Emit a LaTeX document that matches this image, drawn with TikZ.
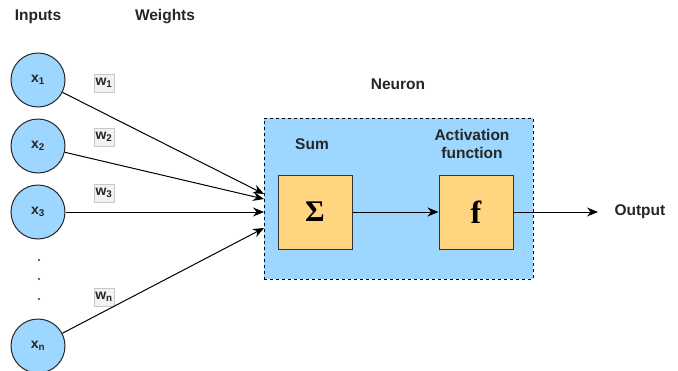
\documentclass[tikz,border=0pt]{standalone}
\usepackage{fontspec}
\setmainfont{Liberation Sans}
\newfontfamily\serifbold{Liberation Serif}
\usetikzlibrary{arrows.meta}
\definecolor{neuronblue}{HTML}{9DD6FF}
\definecolor{boxorange}{HTML}{FFD580}
\definecolor{wfill}{HTML}{F2F2F2}
\definecolor{wline}{HTML}{C8C8C8}
\tikzset{
  inputnode/.style={circle, draw=black!85, fill=neuronblue, line width=1pt,
    minimum size=54pt, inner sep=0pt, font=\bfseries\fontsize{14}{16}\selectfont, text=black!85},
  weightlabel/.style={draw=wline, fill=wfill, line width=0.6pt, inner sep=1.5pt,
    minimum width=20pt, minimum height=18pt, font=\bfseries\fontsize{14}{16}\selectfont, text=black!85},
  opbox/.style={draw=black!80, fill=boxorange, line width=1pt,
    minimum size=74pt, inner sep=0pt},
  caption/.style={font=\bfseries\fontsize{15.5}{18}\selectfont, text=black!85, align=center},
  conn/.style={line width=1pt, -{Stealth[length=11pt,width=9pt]}},
}
\begin{document}
\begin{tikzpicture}[x=1pt,y=-1pt]
  \useasboundingbox (0,0) rectangle (678,370);

  % column headers
  \node[caption] (hin) at (38,17) {Inputs};
  \node[caption] (hw) at (165,17) {Weights};

  % neuron container
  \node[caption] (hneuron) at (398,84) {Neuron};
  \node[draw=black, fill=neuronblue, dashed, line width=0.9pt,
        minimum width=269pt, minimum height=161pt, inner sep=0pt] (neuron) at (398.5,198.5) {};
  \node[caption] (hsum) at (312,144) {Sum};
  \node[caption] (hact) at (472,144) {Activation\\function};

  % inputs
  \node[inputnode] (x1) at (38,80) {x\textsubscript{1}};
  \node[inputnode] (x2) at (38,146) {x\textsubscript{2}};
  \node[inputnode] (x3) at (38,212) {x\textsubscript{3}};
  \node[inputnode] (xn) at (38,346) {x\textsubscript{n}};

  % vertical ellipsis
  \fill[black!80] (39,260) circle (1.1pt) (39,279) circle (1.1pt) (39,299) circle (1.1pt);

  % weights
  \node[weightlabel] (w1) at (104,83) {w\textsubscript{1}};
  \node[weightlabel] (w2) at (104,137) {w\textsubscript{2}};
  \node[weightlabel] (w3) at (104,193) {w\textsubscript{3}};
  \node[weightlabel] (wn) at (104,297) {w\textsubscript{n}};

  % sum and activation
  \node[opbox] (sum) at (315,212) {\serifbold\bfseries\fontsize{30}{30}\selectfont Σ};
  \node[opbox] (act) at (476,212) {\serifbold\bfseries\fontsize{32}{32}\selectfont f};

  % entry points on the neuron border
  \coordinate (in1) at (264,194);
  \coordinate (in2) at (264,199);
  \coordinate (in3) at (264,212);
  \coordinate (inn) at (264,228);
  \coordinate (outend) at (598,212);
  \node[caption, anchor=west] (out) at (611,212) {Output};

  \draw[conn] (x1) -- (in1);
  \draw[conn] (x2) -- (in2);
  \draw[conn] (x3) -- (in3);
  \draw[conn] (xn) -- (inn);
  \draw[conn] (sum) -- (act);
  \draw[conn] (act) -- (outend);
\end{tikzpicture}
\end{document}
